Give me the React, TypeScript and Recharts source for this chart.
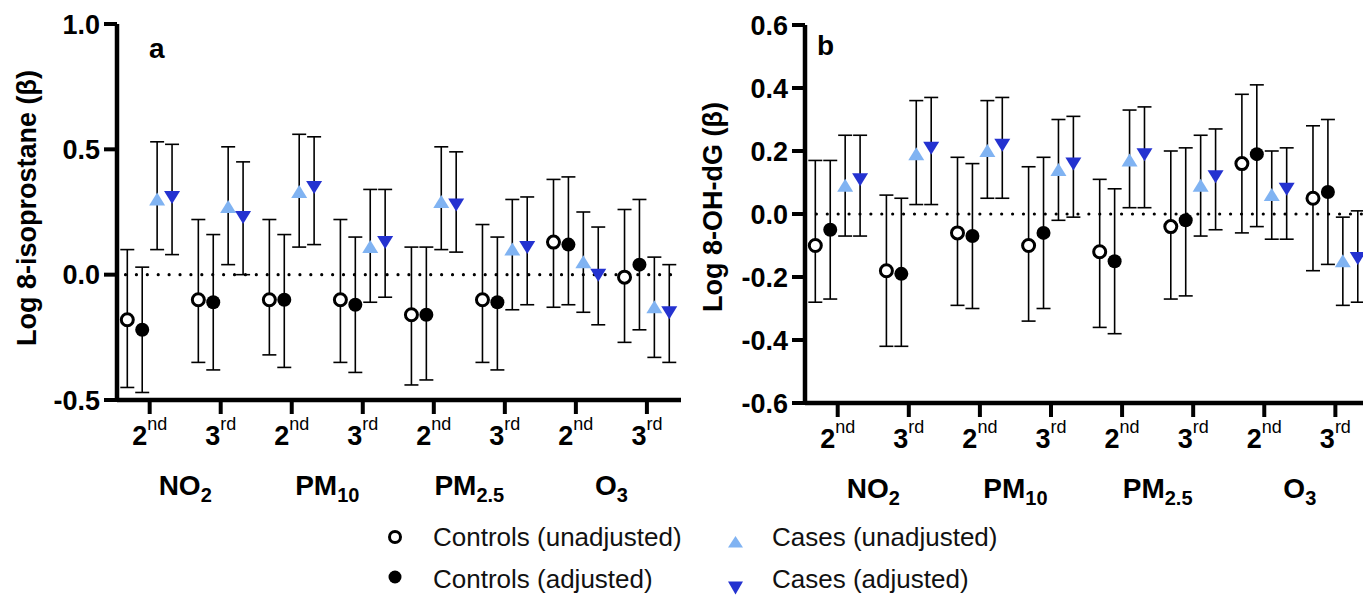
import React from 'react';
import { ScatterChart, Scatter, XAxis, YAxis, ErrorBar, ReferenceLine } from 'recharts';

const FONT = '"Liberation Sans", Arial, Helvetica, sans-serif';
const LIGHT = '#80b3f2';
const DARK = '#2432d0';

// x slots: tertile of each pollutant
const slots = [1, 2, 3, 4, 5, 6, 7, 8];
const rankDigit = ['2', '3', '2', '3', '2', '3', '2', '3'];
const rankSuffix = ['nd', 'rd', 'nd', 'rd', 'nd', 'rd', 'nd', 'rd'];
const gasBase = ['NO', 'PM', 'PM', 'O'];
const gasSub = ['2', '10', '2.5', '3'];

// series order: controls unadj, controls adj, cases unadj, cases adj
const seriesShift = [-0.315, -0.105, 0.105, 0.315];

// panel a: log 8-isoprostane
const isoCtrlRaw = [-0.18, -0.1, -0.1, -0.1, -0.16, -0.1, 0.13, -0.01];
const isoCtrlRawLo = [-0.45, -0.35, -0.32, -0.35, -0.44, -0.35, -0.13, -0.27];
const isoCtrlRawHi = [0.1, 0.22, 0.22, 0.22, 0.11, 0.2, 0.38, 0.26];
const isoCtrlAdj = [-0.22, -0.11, -0.1, -0.12, -0.16, -0.11, 0.12, 0.04];
const isoCtrlAdjLo = [-0.47, -0.38, -0.37, -0.39, -0.42, -0.38, -0.12, -0.22];
const isoCtrlAdjHi = [0.03, 0.16, 0.16, 0.15, 0.11, 0.15, 0.39, 0.3];
const isoCaseRaw = [0.3, 0.27, 0.33, 0.11, 0.29, 0.1, 0.05, -0.13];
const isoCaseRawLo = [0.1, 0.04, 0.11, -0.11, 0.1, -0.14, -0.15, -0.33];
const isoCaseRawHi = [0.53, 0.51, 0.56, 0.34, 0.51, 0.3, 0.25, 0.07];
const isoCaseAdj = [0.31, 0.23, 0.35, 0.13, 0.28, 0.11, 0.0, -0.15];
const isoCaseAdjLo = [0.08, 0.0, 0.12, -0.09, 0.09, -0.12, -0.2, -0.35];
const isoCaseAdjHi = [0.52, 0.45, 0.55, 0.34, 0.49, 0.31, 0.19, 0.04];

// panel b: log 8-OH-dG
const ohCtrlRaw = [-0.1, -0.18, -0.06, -0.1, -0.12, -0.04, 0.16, 0.05];
const ohCtrlRawLo = [-0.28, -0.42, -0.29, -0.34, -0.36, -0.27, -0.06, -0.18];
const ohCtrlRawHi = [0.17, 0.06, 0.18, 0.15, 0.11, 0.2, 0.38, 0.28];
const ohCtrlAdj = [-0.05, -0.19, -0.07, -0.06, -0.15, -0.02, 0.19, 0.07];
const ohCtrlAdjLo = [-0.27, -0.42, -0.3, -0.3, -0.38, -0.26, -0.04, -0.16];
const ohCtrlAdjHi = [0.17, 0.05, 0.16, 0.18, 0.08, 0.21, 0.41, 0.3];
const ohCaseRaw = [0.09, 0.19, 0.2, 0.14, 0.17, 0.09, 0.06, -0.15];
const ohCaseRawLo = [-0.07, 0.03, 0.05, -0.02, 0.02, -0.07, -0.08, -0.29];
const ohCaseRawHi = [0.25, 0.36, 0.36, 0.3, 0.33, 0.25, 0.2, -0.01];
const ohCaseAdj = [0.11, 0.21, 0.22, 0.16, 0.19, 0.12, 0.08, -0.14];
const ohCaseAdjLo = [-0.07, 0.03, 0.05, -0.01, 0.02, -0.05, -0.08, -0.28];
const ohCaseAdjHi = [0.25, 0.37, 0.37, 0.31, 0.34, 0.27, 0.21, 0.01];

const isoTicks = [-0.5, 0, 0.5, 1.0];
const ohTicks = [-0.6, -0.4, -0.2, 0, 0.2, 0.4, 0.6];

const X_DOMAIN: [number, number] = [0.54, 8.48];

const toPoints = (mean: number[], lo: number[], hi: number[], shift: number) =>
  slots.map((s, i) => ({ x: s + shift, y: mean[i], err: [mean[i] - lo[i], hi[i] - mean[i]] }));

const OpenDot = (p: any) => <circle cx={p.cx} cy={p.cy} r={6} fill="#fff" stroke="#000" strokeWidth={3} />;
const FilledDot = (p: any) => <circle cx={p.cx} cy={p.cy} r={7} fill="#000" />;
const UpTri = (p: any) => (
  <polygon points={`${p.cx},${p.cy - 7} ${p.cx - 8},${p.cy + 6} ${p.cx + 8},${p.cy + 6}`} fill={LIGHT} />
);
const DownTri = (p: any) => (
  <polygon points={`${p.cx - 8},${p.cy - 6} ${p.cx + 8},${p.cy - 6} ${p.cx},${p.cy + 7}`} fill={DARK} />
);
const shapes = [OpenDot, FilledDot, UpTri, DownTri];

// tertile label under each tick; the pollutant name sits halfway to the next tick
const RankTick = (p: any) => {
  const i = slots.indexOf(p.payload.value);
  const g = Math.floor(i / 2);
  return (
    <g>
      <text x={p.x} y={p.y + 29} textAnchor="middle" fill="#000" fontFamily={FONT}>
        <tspan fontSize={27} fontWeight="bold">{rankDigit[i]}</tspan>
        <tspan fontSize={18} dy={-15}>{rankSuffix[i]}</tspan>
      </text>
      {i % 2 === 0 && (
        <text x={p.x + p.half} y={p.y + 79} textAnchor="middle" fill="#000" fontFamily={FONT} fontWeight="bold">
          <tspan fontSize={28}>{gasBase[g]}</tspan>
          <tspan fontSize={20} dy={7}>{gasSub[g]}</tspan>
        </text>
      )}
    </g>
  );
};

const YTitle = ({ text, cx, cy }: any) => (
  <text
    x={cx}
    y={cy}
    transform={`rotate(-90 ${cx} ${cy})`}
    textAnchor="middle"
    dominantBaseline="central"
    fontFamily={FONT}
    fontWeight="bold"
    fontSize={27}
    fill="#000"
  >
    {text}
  </text>
);

interface PanelProps {
  left: number;
  width: number;
  marginRight: number;
  top: number;
  plotH: number;
  axisW: number;
  yDomain: [number, number];
  yTicks: number[];
  title: string;
  titleX: number;
  titleY: number;
  lineStart: number;
  series: { x: number; y: number; err: number[] }[][];
}

function Panel(props: PanelProps) {
  const { left, width, marginRight, top, plotH, axisW, yDomain, yTicks, title, titleX, titleY, lineStart, series } = props;
  const plotW = width - marginRight - axisW;
  const half = (plotW / (X_DOMAIN[1] - X_DOMAIN[0])) / 2;
  return (
    <div style={{ position: 'absolute', left, top: 0 }}>
      <ScatterChart
        width={width}
        height={top + plotH + 110}
        margin={{ top, right: marginRight, left: 0, bottom: 0 }}
        style={{ fontFamily: FONT }}
      >
        <XAxis
          type="number"
          dataKey="x"
          domain={X_DOMAIN}
          ticks={slots}
          interval={0}
          allowDataOverflow
          height={110}
          tickSize={14}
          tickMargin={2}
          axisLine={{ stroke: '#000', strokeWidth: 4.5 }}
          tickLine={{ stroke: '#000', strokeWidth: 4 }}
          tick={<RankTick half={half} />}
        />
        <YAxis
          type="number"
          dataKey="y"
          domain={yDomain}
          ticks={yTicks}
          interval={0}
          allowDataOverflow
          width={axisW}
          tickSize={13}
          tickMargin={4}
          tickFormatter={(v: number) => v.toFixed(1)}
          axisLine={{ stroke: '#000', strokeWidth: 4.5 }}
          tickLine={{ stroke: '#000', strokeWidth: 4 }}
          tick={{ fill: '#000', fontSize: 27, fontWeight: 'bold', fontFamily: FONT }}
          label={<YTitle text={title} cx={titleX} cy={titleY} />}
        />
        <ReferenceLine
          segment={[{ x: lineStart, y: 0 }, { x: X_DOMAIN[1], y: 0 }]}
          stroke="#000"
          strokeWidth={3.2}
          strokeDasharray="0 10.9"
          strokeLinecap="round"
        />
        {series.map((pts, k) => (
          <Scatter key={k} data={pts} shape={shapes[k]} isAnimationActive={false}>
            <ErrorBar dataKey="err" direction="y" width={7} stroke="#000" strokeWidth={1.6} isAnimationActive={false} />
          </Scatter>
        ))}
      </ScatterChart>
    </div>
  );
}

const isoSeries = [
  toPoints(isoCtrlRaw, isoCtrlRawLo, isoCtrlRawHi, seriesShift[0]),
  toPoints(isoCtrlAdj, isoCtrlAdjLo, isoCtrlAdjHi, seriesShift[1]),
  toPoints(isoCaseRaw, isoCaseRawLo, isoCaseRawHi, seriesShift[2]),
  toPoints(isoCaseAdj, isoCaseAdjLo, isoCaseAdjHi, seriesShift[3]),
];
const ohSeries = [
  toPoints(ohCtrlRaw, ohCtrlRawLo, ohCtrlRawHi, seriesShift[0]),
  toPoints(ohCtrlAdj, ohCtrlAdjLo, ohCtrlAdjHi, seriesShift[1]),
  toPoints(ohCaseRaw, ohCaseRawLo, ohCaseRawHi, seriesShift[2]),
  toPoints(ohCaseAdj, ohCaseAdjLo, ohCaseAdjHi, seriesShift[3]),
];

const legendItems = [
  { label: 'Controls (unadjusted)', x: 395, y: 537, tx: 433, ty: 546, kind: 0 },
  { label: 'Controls (adjusted)', x: 395, y: 577, tx: 433, ty: 588, kind: 1 },
  { label: 'Cases (unadjusted)', x: 735.5, y: 542, tx: 772, ty: 546, kind: 2 },
  { label: 'Cases (adjusted)', x: 735.5, y: 588, tx: 772, ty: 588, kind: 3 },
];

function LegendIcon({ kind, x, y }: { kind: number; x: number; y: number }) {
  if (kind === 0) return <circle cx={x} cy={y} r={5.5} fill="#fff" stroke="#000" strokeWidth={3} />;
  if (kind === 1) return <circle cx={x} cy={y} r={6.5} fill="#000" />;
  if (kind === 2) return <polygon points={`${x},${y - 6} ${x - 7.5},${y + 5.5} ${x + 7.5},${y + 5.5}`} fill={LIGHT} />;
  return <polygon points={`${x - 7.5},${y - 6.5} ${x + 7.5},${y - 6.5} ${x},${y + 6.5}`} fill={DARK} />;
}

export default function App() {
  return (
    <div
      style={{
        position: 'absolute',
        left: 0,
        top: 0,
        width: 1363,
        height: 602,
        overflow: 'hidden',
        background: '#fff',
      }}
    >
      <Panel
        left={0}
        width={700}
        marginRight={19}
        top={24}
        plotH={376}
        axisW={117}
        yDomain={[-0.5, 1.0]}
        yTicks={isoTicks}
        title="Log 8-isoprostane (β)"
        titleX={27}
        titleY={208}
        lineStart={0.66}
        series={isoSeries}
      />
      <Panel
        left={690}
        width={690}
        marginRight={10.5}
        top={25}
        plotH={378}
        axisW={115}
        yDomain={[-0.6, 0.6]}
        yTicks={ohTicks}
        title="Log 8-OH-dG (β)"
        titleX={23}
        titleY={207}
        lineStart={0.7}
        series={ohSeries}
      />
      <svg
        width={1363}
        height={602}
        style={{ position: 'absolute', left: 0, top: 0, pointerEvents: 'none' }}
      >
        <text x={149} y={58} fontFamily={FONT} fontWeight="bold" fontSize={28} fill="#000">a</text>
        <text x={817} y={55} fontFamily={FONT} fontWeight="bold" fontSize={28} fill="#000">b</text>
        {legendItems.map((it) => (
          <g key={it.label}>
            <LegendIcon kind={it.kind} x={it.x} y={it.y} />
            <text x={it.tx} y={it.ty} fontFamily={FONT} fontSize={26} fill="#111">
              {it.label}
            </text>
          </g>
        ))}
      </svg>
    </div>
  );
}
